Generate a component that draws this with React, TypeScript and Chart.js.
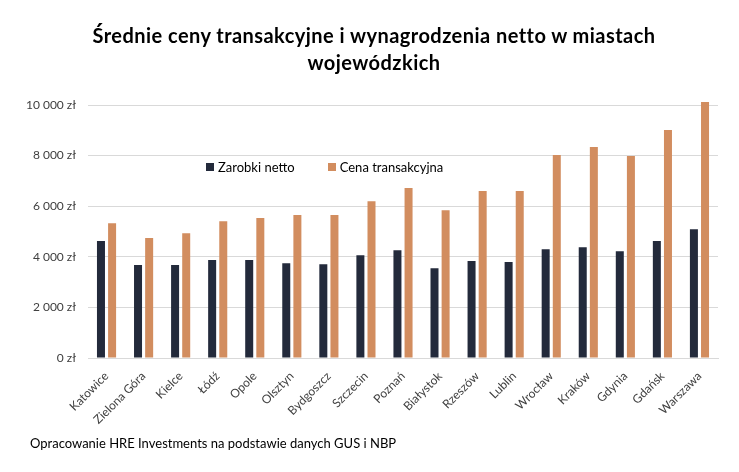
import React, { useEffect, useRef } from "react";
import { Chart, registerables } from "chart.js";

Chart.register(...registerables);

const cities = [
  "Katowice", "Zielona Góra", "Kielce", "Łódź", "Opole", "Olsztyn", "Bydgoszcz",
  "Szczecin", "Poznań", "Białystok", "Rzeszów", "Lublin", "Wrocław", "Kraków",
  "Gdynia", "Gdańsk", "Warszawa",
];
const netSalary = [
  4620, 3680, 3680, 3870, 3870, 3750, 3710, 4060, 4260, 3550, 3830, 3790, 4300,
  4380, 4220, 4620, 5090,
];
const transactionPrice = [
  5330, 4740, 4930, 5410, 5530, 5650, 5650, 6200, 6720, 5840, 6600, 6600, 8020,
  8340, 7980, 9010, 10120,
];
const yTicks = [0, 2000, 4000, 6000, 8000, 10000];
const seriesNames = ["Zarobki netto", "Cena transakcyjna"];
const colors = ["#232a3b", "#d28d5f"];
const titleLines = ["Średnie ceny transakcyjne i wynagrodzenia netto w miastach", "wojewódzkich"];
const footerText = "Opracowanie HRE Investments na podstawie danych GUS i NBP";

const FONT = "Lato, 'Open Sans', sans-serif";

const fmt = (v: number) =>
  String(v).replace(/\B(?=(\d{3})+(?!\d))/g, " ") + " zł";

export default function App() {
  const ref = useRef<HTMLCanvasElement | null>(null);

  useEffect(() => {
    if (!ref.current) return;
    const chart = new Chart(ref.current, {
      type: "bar",
      data: {
        labels: cities,
        datasets: [
          {
            label: seriesNames[0],
            data: netSalary,
            backgroundColor: colors[0],
            categoryPercentage: 0.6,
            barPercentage: 0.72,
            clip: false as any,
          },
          {
            label: seriesNames[1],
            data: transactionPrice,
            backgroundColor: colors[1],
            categoryPercentage: 0.6,
            barPercentage: 0.72,
            clip: false as any,
          },
        ],
      },
      options: {
        animation: false,
        responsive: false,
        maintainAspectRatio: false,
        layout: { padding: { top: 105, left: 8, right: 21, bottom: 0 } },
        plugins: {
          legend: { display: false },
          title: { display: false },
          tooltip: { enabled: false },
        },
        scales: {
          x: {
            grid: { display: false, drawTicks: false },
            border: { color: "#d9d9d9", width: 1 },
            ticks: {
              minRotation: 45,
              maxRotation: 45,
              padding: 11,
              color: "#404040",
              font: { family: FONT, size: 12 },
              autoSkip: false,
            },
            afterFit: (s: any) => {
              s.height = 114;
            },
          },
          y: {
            min: 0,
            max: 10000,
            afterBuildTicks: (s: any) => {
              s.ticks = yTicks.map((v) => ({ value: v }));
            },
            grid: { color: "#d9d9d9", drawTicks: false },
            border: { display: false },
            ticks: {
              padding: 12,
              color: "#404040",
              font: { family: FONT, size: 12 },
              callback: (v: any) => fmt(Number(v)),
            },
            afterFit: (s: any) => {
              s.width = 80;
            },
          },
        },
      },
    });
    return () => chart.destroy();
  }, []);

  return (
    <div
      style={{
        position: "absolute",
        left: 0,
        top: 0,
        width: 739,
        height: 472,
        background: "#fff",
        fontFamily: FONT,
        overflow: "hidden",
      }}
    >
      <canvas ref={ref} width={739} height={472} style={{ position: "absolute", left: 0, top: 0 }} />
      <div
        style={{
          position: "absolute",
          left: 0,
          width: 748,
          top: 22,
          textAlign: "center",
          fontWeight: 700,
          fontSize: 20,
          letterSpacing: "0.45px",
          lineHeight: "27px",
          color: "#000",
        }}
      >
        {titleLines.map((l, i) => (
          <div key={i}>{l}</div>
        ))}
      </div>
      <div
        style={{
          position: "absolute",
          left: 206,
          top: 158,
          display: "flex",
          alignItems: "center",
          fontSize: 13,
          color: "#000",
          lineHeight: "18px",
        }}
      >
        <span style={{ width: 8, height: 8, background: colors[0], display: "inline-block", marginRight: 4 }} />
        <span style={{ marginRight: 33 }}>{seriesNames[0]}</span>
        <span style={{ width: 8, height: 8, background: colors[1], display: "inline-block", marginRight: 4 }} />
        <span>{seriesNames[1]}</span>
      </div>
      <div
        style={{
          position: "absolute",
          left: 30,
          top: 435,
          fontSize: 13,
          color: "#000",
          lineHeight: "16px",
        }}
      >
        {footerText}
      </div>
    </div>
  );
}
